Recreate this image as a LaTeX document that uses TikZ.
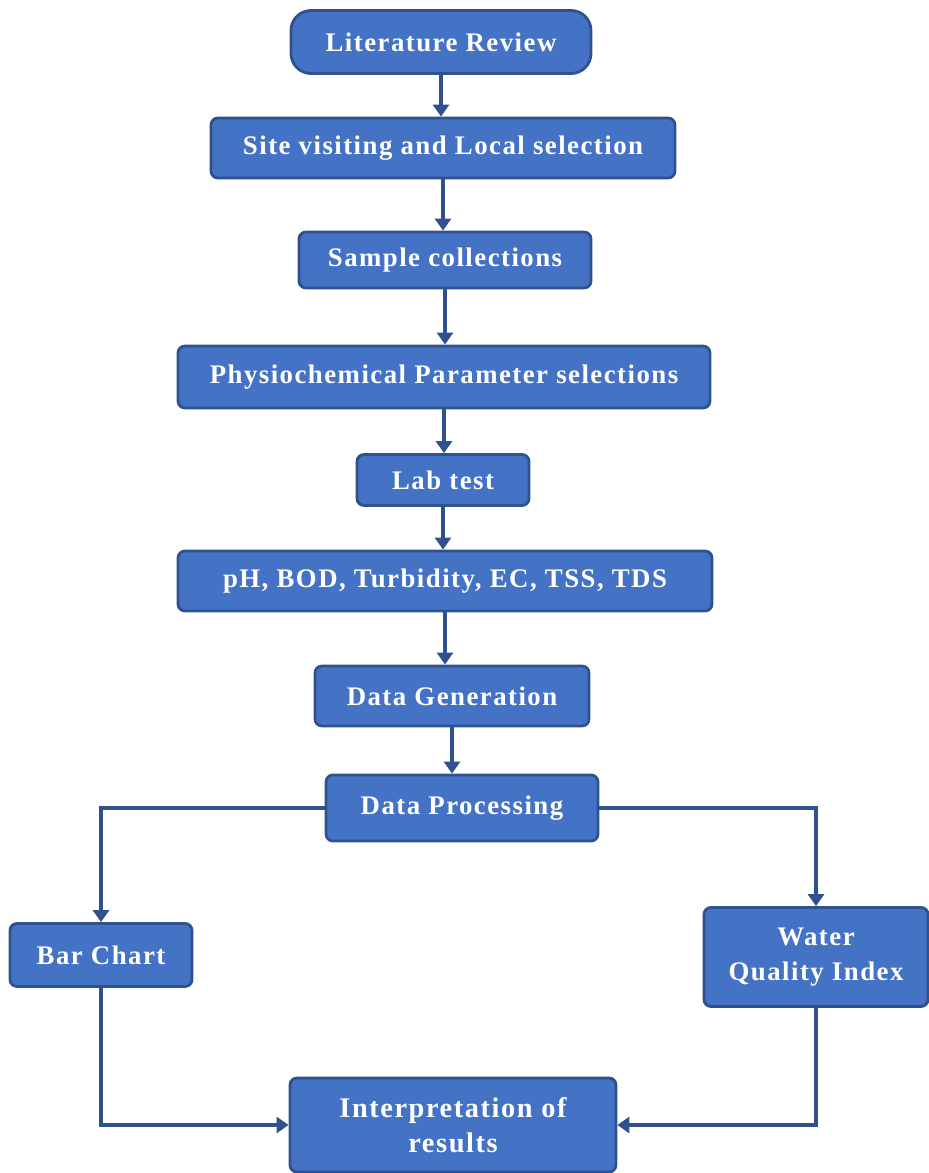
\documentclass[tikz,border=0pt]{standalone}
\usepackage{fontspec}
\setmainfont{Liberation Serif}[LetterSpace=5.5]
\usetikzlibrary{arrows.meta}
\definecolor{boxfill}{HTML}{4472C4}
\definecolor{boxline}{HTML}{2F528F}
\begin{document}
\begin{tikzpicture}[x=0.5pt,y=-0.5pt,
    stepbox/.style={draw=boxline,fill=boxfill,line width=1.4pt,rounded corners=3.5pt,
        text=white,font=\fontsize{13.4}{17.5}\selectfont\bfseries,align=center,inner sep=0pt},
    flow/.style={draw=boxline,line width=2.3pt,-{Triangle[width=8pt,length=6pt]}}]
    \useasboundingbox (0,0) rectangle (929,1173);
    \node[stepbox,rounded corners=10pt,minimum width=150pt,minimum height=31.5pt](lit) at (441,42){Literature Review};
    \node[stepbox,minimum width=232pt,minimum height=30pt](site) at (443,148){Site visiting and Local selection};
    \node[stepbox,minimum width=146pt,minimum height=28pt](sample) at (445,260){Sample collections};
    \node[stepbox,minimum width=266pt,minimum height=31pt](param) at (444,377){Physiochemical Parameter selections};
    \node[stepbox,minimum width=86pt,minimum height=25.5pt](lab) at (443,480){Lab test};
    \node[stepbox,minimum width=267pt,minimum height=30pt](tests) at (445,581){pH, BOD, Turbidity, EC, TSS, TDS};
    \node[stepbox,minimum width=137pt,minimum height=30pt](gen) at (452,696){Data Generation};
    \node[stepbox,minimum width=136pt,minimum height=33pt](proc) at (462,808){Data Processing};
    \node[stepbox,minimum width=91pt,minimum height=31.5pt](bar) at (101,955){Bar Chart};
    \node[stepbox,minimum width=112pt,minimum height=49.5pt](wqi) at (816,957){Water\\Quality Index};
    \node[stepbox,font=\fontsize{14.2}{17.5}\selectfont\bfseries,minimum width=163pt,minimum height=47pt](interp) at (453,1125){Interpretation of\\results};
    \draw[flow] (lit.south) -- (lit.south |- site.north);
    \draw[flow] (site.south) -- (site.south |- sample.north);
    \draw[flow] (sample.south) -- (sample.south |- param.north);
    \draw[flow] (param.south) -- (param.south |- lab.north);
    \draw[flow] (lab.south) -- (lab.south |- tests.north);
    \draw[flow] (tests.south) -- (tests.south |- gen.north);
    \draw[flow] (gen.south) -- (gen.south |- proc.north);
    \draw[flow] (proc.west) -| (bar.north);
    \draw[flow] (proc.east) -| (wqi.north);
    \draw[flow] (bar.south) |- (interp.west);
    \draw[flow] (wqi.south) |- (interp.east);
\end{tikzpicture}
\end{document}
